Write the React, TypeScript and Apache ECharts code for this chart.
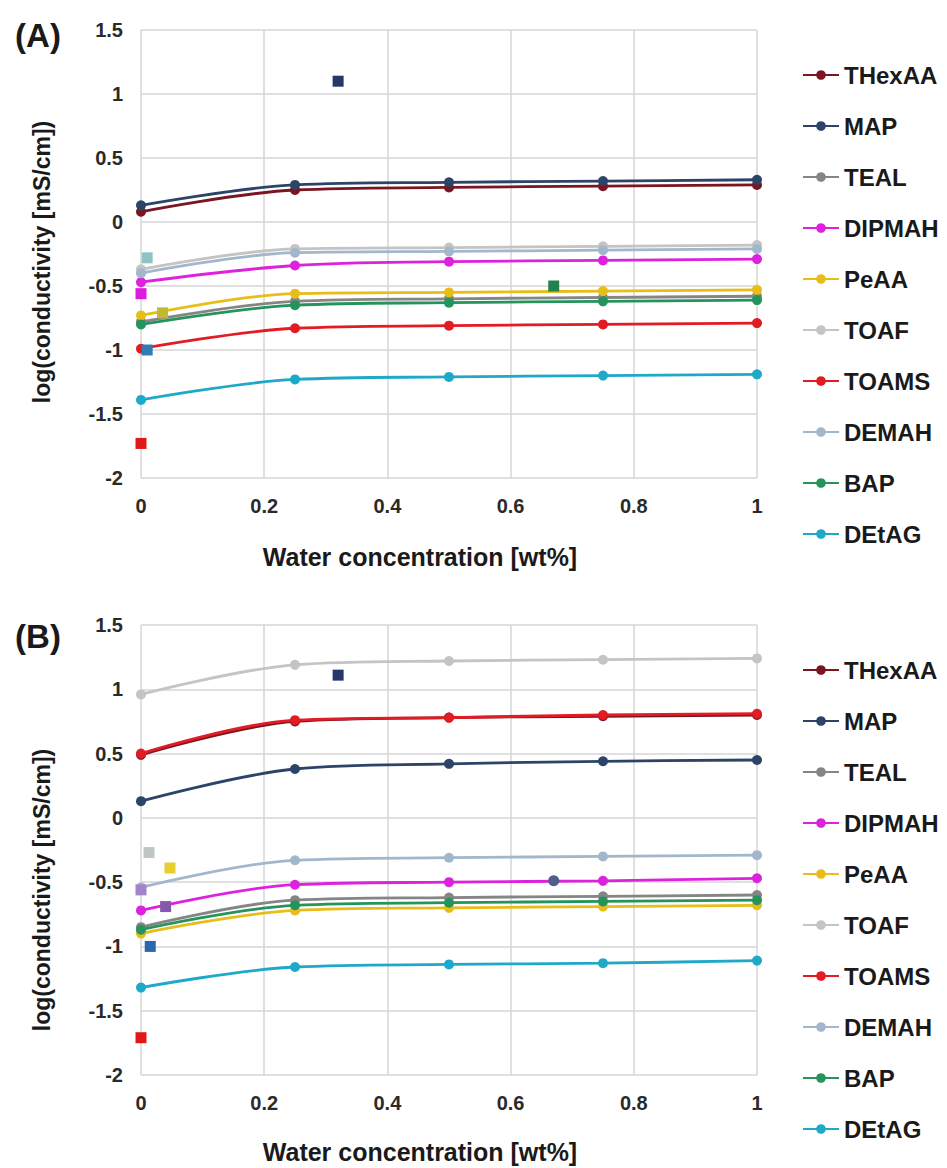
import React, { useEffect, useRef } from "react";
import * as echarts from "echarts";

const xWater = [0, 0.25, 0.5, 0.75, 1];
const seriesNames = ["THexAA", "MAP", "TEAL", "DIPMAH", "PeAA", "TOAF", "TOAMS", "DEMAH", "BAP", "DEtAG"];
const seriesColors = ["#7a1622", "#2c4468", "#858585", "#dd22dd", "#e8bd18", "#c4c4c4", "#e31b23", "#a3b7cc", "#24945a", "#1fa9c9"];

// Panel A values (log conductivity)
const aTHexAA = [0.08, 0.25, 0.27, 0.28, 0.29];
const aMAP = [0.13, 0.29, 0.31, 0.32, 0.33];
const aTEAL = [-0.78, -0.62, -0.6, -0.59, -0.58];
const aDIPMAH = [-0.47, -0.34, -0.31, -0.3, -0.29];
const aPeAA = [-0.73, -0.56, -0.55, -0.54, -0.53];
const aTOAF = [-0.37, -0.21, -0.2, -0.19, -0.18];
const aTOAMS = [-0.99, -0.83, -0.81, -0.8, -0.79];
const aDEMAH = [-0.4, -0.24, -0.23, -0.22, -0.21];
const aBAP = [-0.8, -0.65, -0.63, -0.62, -0.61];
const aDEtAG = [-1.39, -1.23, -1.21, -1.2, -1.19];

// Panel B values
const bTHexAA = [0.49, 0.75, 0.78, 0.79, 0.8];
const bMAP = [0.13, 0.38, 0.42, 0.44, 0.45];
const bTEAL = [-0.85, -0.64, -0.62, -0.61, -0.6];
const bDIPMAH = [-0.72, -0.52, -0.5, -0.49, -0.47];
const bPeAA = [-0.9, -0.72, -0.7, -0.69, -0.68];
const bTOAF = [0.96, 1.19, 1.22, 1.23, 1.24];
const bTOAMS = [0.5, 0.76, 0.78, 0.8, 0.81];
const bDEMAH = [-0.54, -0.33, -0.31, -0.3, -0.29];
const bBAP = [-0.87, -0.68, -0.66, -0.65, -0.64];
const bDEtAG = [-1.32, -1.16, -1.14, -1.13, -1.11];

// Isolated points
const aExtraX = [0.32, 0.67, 0.035, 0.01, 0, 0.01, 0];
const aExtraY = [1.1, -0.5, -0.71, -1.0, -1.73, -0.28, -0.56];
const aExtraColors = ["#26386b", "#24804f", "#c2b832", "#2f7db3", "#e01818", "#8fc4c4", "#e018e0"];
const aExtraShapes = ["rect", "rect", "rect", "rect", "rect", "rect", "rect"];

const bExtraX = [0.32, 0.67, 0.013, 0.047, 0, 0.04, 0.015, 0];
const bExtraY = [1.11, -0.49, -0.27, -0.39, -0.56, -0.69, -1.0, -1.71];
const bExtraColors = ["#26386b", "#505f8a", "#bfc6c5", "#e8cf30", "#a484c8", "#8558ad", "#2a68ad", "#e01818"];
const bExtraShapes = ["rect", "circle", "rect", "rect", "rect", "rect", "rect", "rect"];

const xTicks = ["0", "0.2", "0.4", "0.6", "0.8", "1"];

const aValues = [aTHexAA, aMAP, aTEAL, aDIPMAH, aPeAA, aTOAF, aTOAMS, aDEMAH, aBAP, aDEtAG];
const bValues = [bTHexAA, bMAP, bTEAL, bDIPMAH, bPeAA, bTOAF, bTOAMS, bDEMAH, bBAP, bDEtAG];

const FONT = "Liberation Sans, Arial, sans-serif";

export default function App() {
  const ref = useRef<HTMLDivElement>(null);
  useEffect(() => {
    if (!ref.current) return;
    const chart = echarts.init(ref.current, null, { renderer: "svg" });

    const grids = [
      { left: 141, width: 616, top: 30, height: 448 },
      { left: 141, width: 616, top: 625, height: 450 },
    ];

    const makeX = (gi: number) => ({
      type: "value",
      gridIndex: gi,
      min: 0,
      max: 1,
      interval: 0.2,
      axisLine: { show: false },
      axisTick: { show: false },
      splitLine: { show: true, lineStyle: { color: "#d6d6d6", width: 1.5 } },
      axisLabel: {
        margin: 18,
        fontSize: 20,
        fontWeight: "bold",
        fontFamily: FONT,
        color: "#2a2a2a",
        formatter: (v: number) => xTicks[Math.round(v / 0.2)] ?? String(v),
      },
    });
    const makeY = (gi: number) => ({
      type: "value",
      gridIndex: gi,
      min: -2,
      max: 1.5,
      interval: 0.5,
      axisLine: { show: false },
      axisTick: { show: false },
      splitLine: { show: true, lineStyle: { color: "#d6d6d6", width: 1.5 } },
      axisLabel: {
        margin: 18,
        fontSize: 20,
        fontWeight: "bold",
        fontFamily: FONT,
        color: "#2a2a2a",
      },
    });

    const series: any[] = [];
    [aValues, bValues].forEach((vals, gi) => {
      vals.forEach((arr, i) => {
        series.push({
          name: seriesNames[i],
          type: "line",
          xAxisIndex: gi,
          yAxisIndex: gi,
          smooth: 0.35,
          symbol: "circle",
          symbolSize: 10,
          color: seriesColors[i],
          lineStyle: { width: 2.8, color: seriesColors[i] },
          itemStyle: { color: seriesColors[i] },
          data: xWater.map((x, k) => [x, arr[k]]),
        });
      });
    });
    const extras = [
      [aExtraX, aExtraY, aExtraColors, aExtraShapes],
      [bExtraX, bExtraY, bExtraColors, bExtraShapes],
    ] as any[];
    extras.forEach(([xs, ys, cs, ss], gi) => {
      series.push({
        type: "scatter",
        xAxisIndex: gi,
        yAxisIndex: gi,
        symbolSize: 11,
        z: 5,
        data: xs.map((x: number, k: number) => ({
          value: [x, ys[k]],
          symbol: ss[k],
          itemStyle: { color: cs[k], opacity: 1 },
        })),
      });
    });

    const legendCommon = {
      orient: "vertical",
      left: 797,
      itemWidth: 36,
      itemHeight: 12,
      itemGap: 27,
      data: seriesNames,
      selectedMode: false,
      textStyle: {
        fontSize: 24,
        fontWeight: "bold",
        fontFamily: FONT,
        color: "#1a1a1a",
        lineHeight: 24,
      },
    };

    const titleText = (x: number, y: number, text: string, size: number, rot = 0) => ({
      type: "text",
      x,
      y,
      rotation: rot,
      style: {
        text,
        fontSize: size,
        fontWeight: "bold",
        fontFamily: FONT,
        fill: "#1a1a1a",
        align: "center",
        verticalAlign: "middle",
      },
    });

    chart.setOption({
      animation: false,
      backgroundColor: "#ffffff",
      grid: grids,
      xAxis: [makeX(0), makeX(1)],
      yAxis: [makeY(0), makeY(1)],
      legend: [
        { ...legendCommon, top: 58 },
        { ...legendCommon, top: 653 },
      ],
      graphic: [
        titleText(38, 35, "(A)", 33),
        titleText(38, 636, "(B)", 33),
        titleText(420, 557, "Water concentration [wt%]", 25),
        titleText(420, 1152, "Water concentration [wt%]", 25),
        titleText(42, 262, "log(conductivity [mS/cm])", 23, Math.PI / 2),
        titleText(42, 890, "log(conductivity [mS/cm])", 23, Math.PI / 2),
      ],
      series,
    });
    return () => chart.dispose();
  }, []);
  return (
    <div
      ref={ref}
      style={{ position: "absolute", left: 0, top: 0, width: 947, height: 1168, background: "#fff" }}
    />
  );
}
